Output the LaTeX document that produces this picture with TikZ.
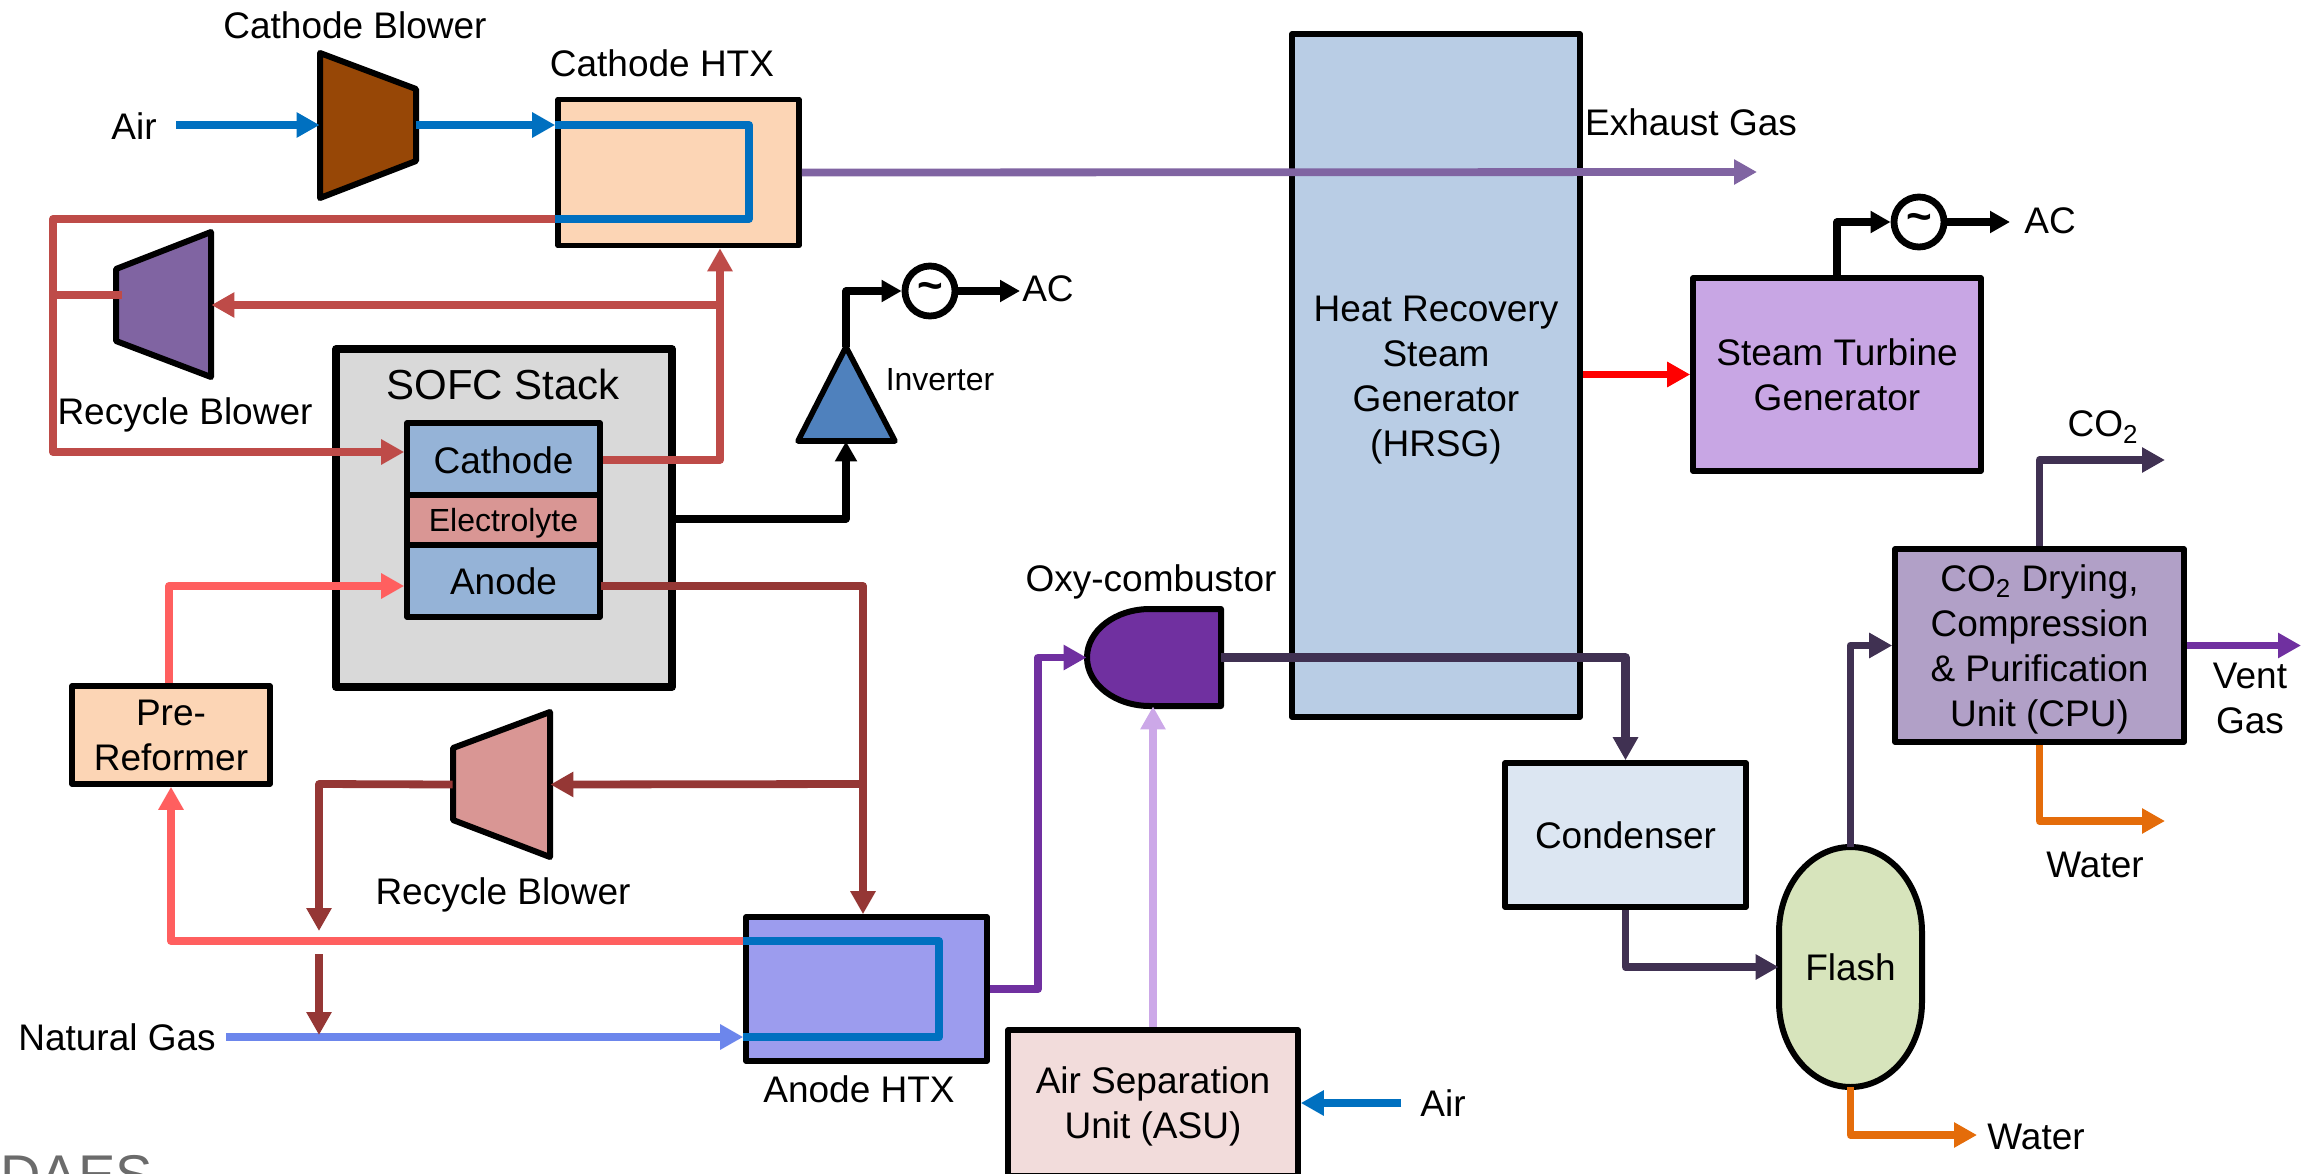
\documentclass[tikz,border=0pt]{standalone}
\usepackage{fontspec}
\setmainfont{Liberation Sans}
\usetikzlibrary{arrows.meta,shapes.geometric,calc}
\definecolor{cAir}{HTML}{0070C0}
\definecolor{cRed}{HTML}{BE4B48}
\definecolor{cDark}{HTML}{953735}
\definecolor{cPink}{HTML}{FF5F5F}
\definecolor{cNG}{HTML}{6C86EC}
\definecolor{cExh}{HTML}{8064A2}
\definecolor{cVio}{HTML}{7030A0}
\definecolor{cNavy}{HTML}{403152}
\definecolor{cLil}{HTML}{CCA8E8}
\definecolor{cOr}{HTML}{E46C0A}
\definecolor{fHTX}{HTML}{FCD5B5}
\definecolor{fAHTX}{HTML}{9C9CEE}
\definecolor{fCell}{HTML}{95B3D7}
\definecolor{fElec}{HTML}{D99694}
\definecolor{fHRSG}{HTML}{B9CDE5}
\definecolor{fST}{HTML}{C8A6E4}
\definecolor{fCPU}{HTML}{B1A0C7}
\definecolor{fCond}{HTML}{DCE6F2}
\definecolor{fFlash}{HTML}{D7E4BC}
\definecolor{fASU}{HTML}{F2DCDB}
\definecolor{fBrown}{HTML}{974706}
\definecolor{fInv}{HTML}{4F81BD}
\tikzset{
  x=0.5pt,y=-0.5pt,
  base font/.style={font=\fontsize{18.5}{22.5}\selectfont},
  lbl/.style={base font,inner sep=0pt,text height=13.2pt,text depth=0pt},
  mlbl/.style={base font,inner sep=0pt,align=center},
  sized/.style 2 args={minimum width=#1*0.5pt,minimum height=#2*0.5pt},
  unit/.style={draw=black,line width=2.8pt,inner sep=0pt,align=center,base font,line join=round},
  anchorbox/.style 2 args={inner sep=0pt,minimum width=#1*0.5pt,minimum height=#2*0.5pt},
  outline/.style={draw=black,line width=3pt,line join=round},
  pipe/.style={line width=3.9pt,line join=round},
  flow/.style={pipe,-{Triangle[length=11.5pt,width=12pt]}},
  elec/.style={line width=3.6pt,line join=round,-{Triangle[length=10pt,width=10.5pt]}},
  gen/.style={circle,draw=black,line width=3.4pt,fill=white,inner sep=0pt,minimum size=25pt},
}
\newcommand{\topgap}[1]{\rule{0pt}{#1}}
\begin{document}
\begin{tikzpicture}
\clip (0,0) rectangle (2324,1173);
% logo fragment
\node[anchor=base west,inner sep=0pt,text=black!58,font=\fontsize{28}{30}\selectfont] (logo) at (0,1194) {DAES};

% unit shapes
\node[unit,fill=fHRSG,sized={288}{683}] (hrsg) at (1436,375.5) {\topgap{17.5pt}Heat Recovery\\Steam\\Generator\\(HRSG)};
\node[unit,fill=fHTX,sized={241}{146}] (chtx) at (678.5,172.5) {};
\node[unit,line width=3.8pt,fill=black!15,sized={336}{338}] (sofc) at (504,518) {};
\node[inner sep=0pt,font=\fontsize{21}{25}\selectfont,text height=15pt,text depth=0pt] (sofcl) at (503,384) {SOFC Stack};
\node[unit,fill=fCell,sized={193}{72}] (cath) at (503.5,459) {\topgap{15pt}Cathode};
\node[unit,fill=fElec,sized={193}{50},font=\fontsize{16}{19}\selectfont] (elyt) at (503.5,520) {\topgap{14.7pt}Electrolyte};
\node[unit,fill=fCell,sized={193}{72}] (anod) at (503.5,581) {Anode};
\node[unit,fill=fHTX,sized={198}{98}] (pref) at (171,735) {Pre-\\Reformer};
\node[unit,fill=fAHTX,sized={241}{144}] (ahtx) at (866.5,989) {};
\node[unit,fill=fST,sized={288}{193}] (stg) at (1837,374.5) {Steam Turbine\\Generator};
\node[unit,fill=fCPU,sized={289}{193}] (cpu) at (2039.5,645.5) {\topgap{17.5pt}CO\textsubscript{2} Drying,\\Compression\\\& Purification\\Unit (CPU)};
\node[unit,fill=fCond,sized={241}{144}] (cond) at (1625.5,835) {Condenser};
\node[unit,fill=fASU,sized={290}{146}] (asu) at (1153,1103) {\topgap{16.5pt}Air Separation\\Unit (ASU)};

% blowers and inverter
\draw[outline,fill=fBrown] (320,53) -- (416,89) -- (416,161) -- (320,198) -- cycle;
\node[anchorbox={96}{145}] (cb) at (368,125.5) {};
\draw[outline,fill=cExh] (116,269) -- (211,232) -- (211,377) -- (116,341) -- cycle;
\node[anchorbox={95}{145}] (rb1) at (163.5,304.5) {};
\draw[outline,fill=fElec] (453,748) -- (550,712) -- (550,857) -- (453,820) -- cycle;
\node[anchorbox={97}{145}] (rb2) at (501.5,784.5) {};
\draw[outline,line width=2.8pt,fill=fInv] (846,347) -- (895,441) -- (798,441) -- cycle;
\node[anchorbox={97}{94}] (inv) at (846,394) {};

% oxy-combustor and flash drum outlines
\draw[outline,fill=cVio] (1221,609) -- (1221,706) -- (1150,706)
   arc[start angle=270,end angle=90,x radius=31.5pt,y radius=24.25pt] -- cycle;
\node[anchorbox={134}{97}] (oxy) at (1154,657.5) {};
\draw[outline,fill=fFlash] (1779,932)
   arc[start angle=180,end angle=0,x radius=35.75pt,y radius=42.5pt] -- (1922,1002)
   arc[start angle=0,end angle=-180,x radius=35.75pt,y radius=42.5pt] -- cycle;
\node[anchorbox={143}{240},base font] (flash) at (1850.5,967) {Flash};

% generators
\node[gen] (gen1) at (930,291) {\raisebox{-3pt}{\makebox[0pt]{\fontsize{22}{22}\selectfont\bfseries\char`\~}}};
\node[gen] (gen2) at (1919,222) {\raisebox{-3pt}{\makebox[0pt]{\fontsize{22}{22}\selectfont\bfseries\char`\~}}};

% labels
\node[lbl] (lcb) at (355,25) {Cathode Blower};
\node[lbl] (lchtx) at (662,63) {Cathode HTX};
\node[lbl] (lair1) at (134,126) {Air};
\node[lbl] (lrb1) at (185,411) {Recycle Blower};
\node[lbl] (lrb2) at (503,891) {Recycle Blower};
\node[lbl] (lng) at (117,1037) {Natural Gas};
\node[lbl] (lahtx) at (859,1089) {Anode HTX};
\node[lbl] (loxy) at (1151,578) {Oxy-combustor};
\node[lbl] (lexh) at (1691,122) {Exhaust Gas};
\node[lbl] (lac1) at (1048,288) {AC};
\node[lbl] (lac2) at (2050,220) {AC};
\node[inner sep=0pt,font=\fontsize{16}{19}\selectfont,text height=11.5pt,text depth=0pt] (linv) at (940,379) {Inverter};
\node[base font,inner sep=0pt] (lco2) at (2103,427) {CO\textsubscript{2}};
\node[mlbl] (lvent) at (2250,698) {Vent\\Gas};
\node[lbl] (lw1) at (2095,864) {Water};
\node[lbl] (lw2) at (2036,1136) {Water};
\node[lbl] (lair2) at (1443,1103) {Air};

% free ends and bends
\coordinate (air1s) at (176,125);
\coordinate (air2s) at (1401,1103);
\coordinate (hb1) at (749,125);
\coordinate (hb2) at (749,219);
\coordinate (rc1) at (53,219);
\coordinate (rc2) at (53,452);
\coordinate (rj1) at (53,295);
\coordinate (rj2) at (720,305);
\coordinate (rj3) at (720,460);
\coordinate (exht) at (1757,172);
\coordinate (d1) at (601,586);
\coordinate (d2) at (863,586);
\coordinate (d3) at (863,784);
\coordinate (d4) at (319,784);
\coordinate (d5) at (319,931);
\coordinate (d6) at (319,954);
\coordinate (d7) at (319,1035);
\coordinate (ngs) at (226,1037);
\coordinate (p1) at (171,941);
\coordinate (p2) at (169,586);
\coordinate (ab1) at (939,941);
\coordinate (ab2) at (939,1037);
\coordinate (e1) at (672,519);
\coordinate (ac1t) at (1020,291);
\coordinate (ac2t) at (2010,222);
\coordinate (v1) at (1038,989);
\coordinate (co2a) at (2039.5,460);
\coordinate (co2t) at (2165,460);
\coordinate (ventt) at (2301,645.5);
\coordinate (w1a) at (2039.5,821);
\coordinate (w1t) at (2165,821);
\coordinate (w2a) at (1850.5,1135);
\coordinate (w2t) at (1977,1135);

% air side
\draw[flow,cAir] (air1s) -- (cb.west |- air1s);
\draw[flow,cAir] (cb.east |- air1s) -- (chtx.west |- air1s);
\draw[pipe,cAir] (chtx.west |- hb1) -- (hb1) -- (hb2) -- (chtx.west |- hb2);
\draw[flow,cRed] (chtx.west |- rc1) -- (rc1) -- (rc2) -- (cath.west |- rc2);
\draw[pipe,cRed] (rj1) -- ([xshift=3pt]rb1.west |- rj1);
\draw[flow,cRed] (cath.east |- rj3) -- (rj3) -- (rj2) -- (rj2 |- chtx.south);
\draw[flow,cRed] (rj2) -- (rb1.east |- rj2);
\draw[flow,cExh] (chtx.east) -- (exht);

% fuel side
\draw[pipe,cDark] (d1) -- (d2) -- (d3);
\draw[flow,cDark] (d3) -- (d2 |- ahtx.north);
\draw[flow,cDark] (d3) -- (rb2.east);
\draw[flow,cDark] (rb2.west) -- (d4) -- (d5);
\draw[flow,cNG] (ngs) -- (ahtx.west |- ngs);
\draw[flow,cDark] (d6) -- (d7);
\draw[flow,cPink] (ahtx.west |- p1) -- (p1) -- (pref.south);
\draw[flow,cPink] (p2 |- pref.north) -- (p2) -- (anod.west |- p2);
\draw[pipe,cAir] (ahtx.west |- ab1) -- (ab1) -- (ab2) -- (ahtx.west |- ab2);

% electrical
\draw[elec] (e1) -| (inv.south);
\draw[elec] (inv.north) |- (gen1.west);
\draw[elec] (gen1.east) -- (ac1t);
\draw[elec] (stg.north) |- (gen2.west);
\draw[elec] (gen2.east) -- (ac2t);

% oxy loop
\draw[flow,cVio] (ahtx.east |- v1) -- (v1) |- (oxy.west);
\draw[flow,cLil] (asu.north) -- (asu.north |- oxy.south);
\draw[flow,cAir] (air2s) -- (asu.east);
\draw[flow,cNavy,line width=4.2pt] (oxy.east) -| (cond.north);
\draw[flow,cNavy] (cond.south) |- (flash.west);
\draw[flow,cNavy] (flash.north) |- (cpu.west);
\draw[flow,cNavy] (cpu.north) -- (co2a) -- (co2t);
\draw[flow,cVio] (cpu.east) -- (ventt);
\draw[flow,cOr] (cpu.south) -- (w1a) -- (w1t);
\draw[flow,cOr] (flash.south) -- (w2a) -- (w2t);
\draw[flow,red] (hrsg.east |- stg.west) -- (stg.west);
\end{tikzpicture}
\end{document}
